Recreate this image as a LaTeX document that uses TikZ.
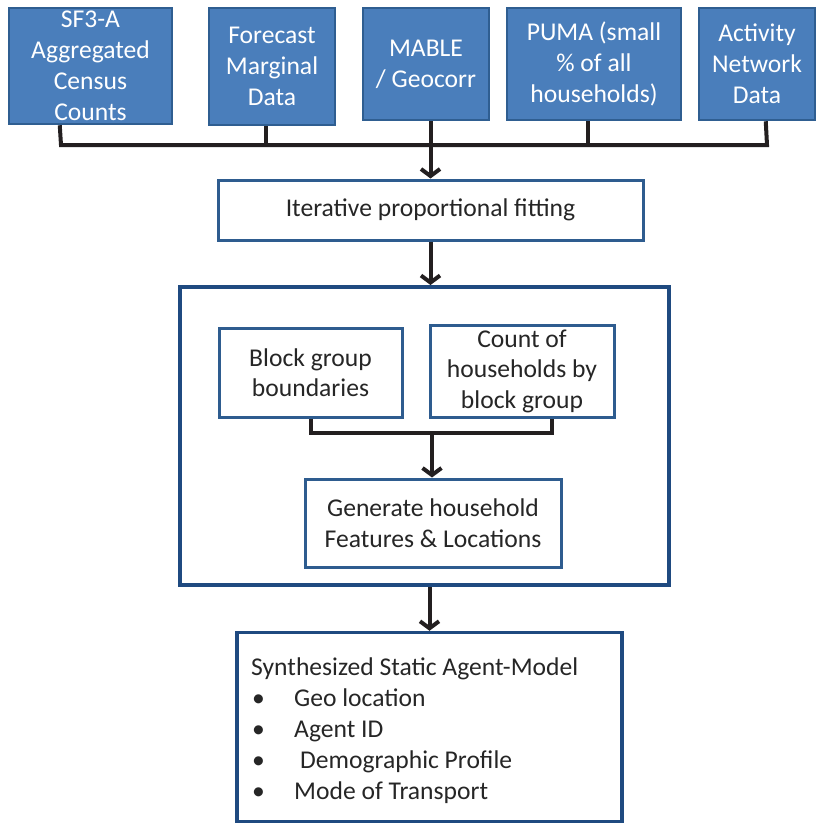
\documentclass[tikz,border=0pt]{standalone}
\usepackage{fontspec}
\setmainfont{Carlito}
\usetikzlibrary{arrows.meta}
\definecolor{boxfill}{HTML}{4A7EBB}
\definecolor{boxedge}{HTML}{2F5E91}
\definecolor{frameblue}{HTML}{2E5C8F}
\definecolor{darkframe}{HTML}{1F4A80}
\definecolor{wire}{HTML}{231F20}
\definecolor{ink}{HTML}{262626}
\tikzset{
  srcbox/.style={draw=boxedge, line width=2.5pt, fill=boxfill, text=white,
    inner sep=0pt, align=center, font=\fontsize{25.6}{31}\selectfont},
  stagebox/.style={draw=frameblue, line width=3pt, fill=white, text=ink,
    inner sep=0pt, align=center, font=\fontsize{25.6}{30.5}\selectfont},
  outerbox/.style={draw=darkframe, line width=4pt, inner sep=0pt},
  conn/.style={draw=wire, line width=4pt},
  arr/.style={conn, -{Straight Barb[length=7pt,width=19pt]}},
}
\begin{document}
\begin{tikzpicture}[x=1pt,y=-1pt]
\useasboundingbox (0,0) rectangle (817,824);

% input data sources
\node[srcbox, minimum width=163pt, minimum height=116pt] (sf) at (90.5,66)
  {SF3-A\\Aggregated\\Census\\Counts};
\node[srcbox, minimum width=126pt, minimum height=117pt] (fc) at (272,66.5)
  {Forecast\\Marginal\\Data};
\node[srcbox, minimum width=126pt, minimum height=112pt] (mb) at (426,64)
  {MABLE\\/ Geocorr};
\node[srcbox, minimum width=174pt, minimum height=112pt] (pu) at (594,64)
  {PUMA (small\\\% of all\\households)};
\node[srcbox, minimum width=116pt, minimum height=112pt] (ac) at (757,64)
  {Activity\\Network\\Data};

% fitting stage
\node[stagebox, minimum width=425pt, minimum height=60pt] (ipf) at (430.5,210)
  {Iterative proportional fitting};

% household generation stage
\node[outerbox, minimum width=489pt, minimum height=298pt] (gen) at (424.5,436) {};
\node[stagebox, minimum width=183pt, minimum height=89pt] (bg) at (310.5,372.5)
  {Block group\\boundaries};
\node[stagebox, minimum width=184pt, minimum height=92pt] (cnt) at (522,371)
  {Count of\\households by\\block group};
\node[stagebox, minimum width=256pt, minimum height=88pt] (hh) at (433,523)
  {Generate household\\Features \& Locations};

% output model
\node[outerbox, line width=3.5pt, minimum width=385pt,
  minimum height=189pt] (out) at (429.5,727) {};
\node[anchor=north west, inner sep=0pt, text=ink, align=left,
  font=\fontsize{25.6}{30.8}\selectfont] (outtxt) at (251,658)
  {Synthesized Static Agent-Model\\
   \makebox[43pt][l]{\hspace{1pt}\textbullet}Geo location\\
   \makebox[43pt][l]{\hspace{1pt}\textbullet}Agent ID\\
   \makebox[43pt][l]{\hspace{1pt}\textbullet}\hspace{6pt}Demographic Profile\\
   \makebox[43pt][l]{\hspace{1pt}\textbullet}Mode of Transport};

% bus joining the sources
\coordinate (busL) at (61,145);
\coordinate (busR) at (767,145);
\draw[conn] ([xshift=52pt]sf.south west) -- (busL) -- (busR)
  -- ([xshift=68pt]ac.south west);
\draw[conn] ([xshift=58pt]fc.south west) -- ([xshift=58pt]fc.south west |- busL);
\draw[conn] ([xshift=82pt]pu.south west) -- ([xshift=82pt]pu.south west |- busL);
\draw[arr] (mb.south -| ipf.north) -- (ipf.north);

\draw[arr] (ipf.south) -- (ipf.south |- gen.north);

% merge inside the generation stage
\coordinate (join) at (432,433);
\draw[conn] (bg.south) |- (join) -| ([xshift=123pt]cnt.south west);
\draw[arr] (join) -- (join |- hh.north);

\draw[arr] (gen.south -| out.north) -- (out.north);
\end{tikzpicture}
\end{document}
